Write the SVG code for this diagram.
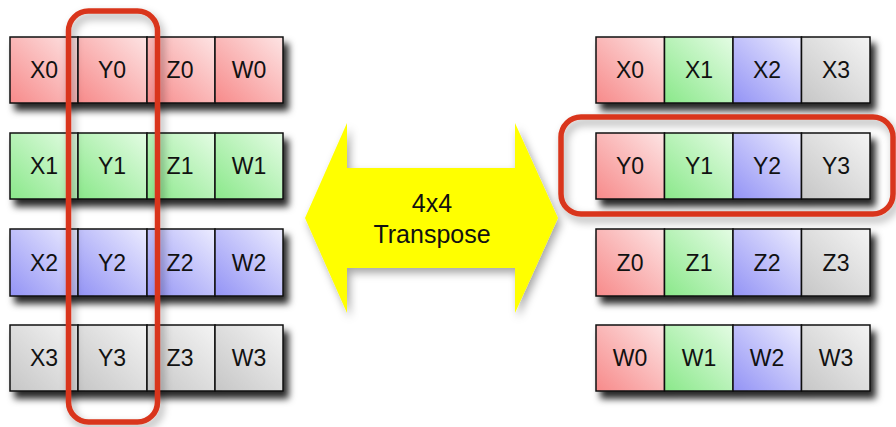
<svg xmlns="http://www.w3.org/2000/svg" width="896" height="427" viewBox="0 0 896 427">
<defs>
<linearGradient id="gr" x1="0" y1="1" x2="1" y2="0"><stop offset="0" stop-color="#f78a8a"/><stop offset="1" stop-color="#fde4e4"/></linearGradient>
<linearGradient id="gg" x1="0" y1="1" x2="1" y2="0"><stop offset="0" stop-color="#8ae88a"/><stop offset="1" stop-color="#e4fce4"/></linearGradient>
<linearGradient id="gb" x1="0" y1="1" x2="1" y2="0"><stop offset="0" stop-color="#9393f5"/><stop offset="1" stop-color="#ececff"/></linearGradient>
<linearGradient id="gy" x1="0" y1="1" x2="1" y2="0"><stop offset="0" stop-color="#c6c6c6"/><stop offset="1" stop-color="#f4f4f4"/></linearGradient>
<filter id="sh" x="-10%" y="-20%" width="130%" height="170%"><feDropShadow dx="5" dy="7" stdDeviation="3.5" flood-color="#000" flood-opacity="0.85"/></filter>
<filter id="sh2" x="-10%" y="-10%" width="130%" height="130%"><feDropShadow dx="3" dy="5" stdDeviation="4" flood-color="#000" flood-opacity="0.35"/></filter>
</defs>
<style>
.c{stroke:#111;stroke-width:1.5}
.r{fill:url(#gr)}.g{fill:url(#gg)}.b{fill:url(#gb)}.y{fill:url(#gy)}
text{font-family:"Liberation Sans",Arial,sans-serif;font-size:23px;fill:#111;text-anchor:middle}
.big{font-size:25px}
.hl{fill:none;stroke:#d9361c;stroke-width:5.5}
</style>
<g id="left-grid">
<g id="row-L0" filter="url(#sh)">
<rect class="c r" x="10" y="37" width="68" height="66"/><rect class="c r" x="78" y="37" width="69" height="66"/><rect class="c r" x="147" y="37" width="68" height="66"/><rect class="c r" x="215" y="37" width="68" height="66"/>
</g>
<g id="row-L1" filter="url(#sh)">
<rect class="c g" x="10" y="133" width="68" height="66"/><rect class="c g" x="78" y="133" width="69" height="66"/><rect class="c g" x="147" y="133" width="68" height="66"/><rect class="c g" x="215" y="133" width="68" height="66"/>
</g>
<g id="row-L2" filter="url(#sh)">
<rect class="c b" x="10" y="229" width="68" height="67"/><rect class="c b" x="78" y="229" width="69" height="67"/><rect class="c b" x="147" y="229" width="68" height="67"/><rect class="c b" x="215" y="229" width="68" height="67"/>
</g>
<g id="row-L3" filter="url(#sh)">
<rect class="c y" x="10" y="325" width="68" height="66"/><rect class="c y" x="78" y="325" width="69" height="66"/><rect class="c y" x="147" y="325" width="68" height="66"/><rect class="c y" x="215" y="325" width="68" height="66"/>
</g>
<text x="44" y="78">X0</text><text x="112" y="78">Y0</text><text x="180" y="78">Z0</text><text x="249" y="78">W0</text>
<text x="44" y="174">X1</text><text x="112" y="174">Y1</text><text x="180" y="174">Z1</text><text x="249" y="174">W1</text>
<text x="44" y="271">X2</text><text x="112" y="271">Y2</text><text x="180" y="271">Z2</text><text x="249" y="271">W2</text>
<text x="44" y="366">X3</text><text x="112" y="366">Y3</text><text x="180" y="366">Z3</text><text x="249" y="366">W3</text>
</g>
<g id="right-grid">
<g id="row-R0" filter="url(#sh)">
<rect class="c r" x="596" y="37" width="68.5" height="66"/><rect class="c g" x="664.5" y="37" width="68.5" height="66"/><rect class="c b" x="733" y="37" width="68.5" height="66"/><rect class="c y" x="801.5" y="37" width="68.5" height="66"/>
</g>
<g id="row-R1" filter="url(#sh)">
<rect class="c r" x="596" y="133" width="68.5" height="66"/><rect class="c g" x="664.5" y="133" width="68.5" height="66"/><rect class="c b" x="733" y="133" width="68.5" height="66"/><rect class="c y" x="801.5" y="133" width="68.5" height="66"/>
</g>
<g id="row-R2" filter="url(#sh)">
<rect class="c r" x="596" y="229" width="68.5" height="67"/><rect class="c g" x="664.5" y="229" width="68.5" height="67"/><rect class="c b" x="733" y="229" width="68.5" height="67"/><rect class="c y" x="801.5" y="229" width="68.5" height="67"/>
</g>
<g id="row-R3" filter="url(#sh)">
<rect class="c r" x="596" y="325" width="68.5" height="66"/><rect class="c g" x="664.5" y="325" width="68.5" height="66"/><rect class="c b" x="733" y="325" width="68.5" height="66"/><rect class="c y" x="801.5" y="325" width="68.5" height="66"/>
</g>
<text x="630" y="78">X0</text><text x="699" y="78">X1</text><text x="767" y="78">X2</text><text x="836" y="78">X3</text>
<text x="630" y="174">Y0</text><text x="699" y="174">Y1</text><text x="767" y="174">Y2</text><text x="836" y="174">Y3</text>
<text x="630" y="271">Z0</text><text x="699" y="271">Z1</text><text x="767" y="271">Z2</text><text x="836" y="271">Z3</text>
<text x="630" y="366">W0</text><text x="699" y="366">W1</text><text x="767" y="366">W2</text><text x="836" y="366">W3</text>
</g>
<g id="highlights">
<rect class="hl" x="68.5" y="11" width="89" height="411" rx="20" filter="url(#sh2)"/>
<rect class="hl" x="561" y="117" width="332" height="97" rx="20" filter="url(#sh2)"/>
</g>
<g id="transpose-arrow">
<polygon points="305,218 347,123 347,168 515,168 515,123 558,218 515,313 515,268 347,268 347,313" fill="#ffff00" filter="url(#sh2)"/>
<text class="big" x="432" y="212">4x4</text>
<text class="big" x="432" y="243">Transpose</text>
</g>
</svg>
